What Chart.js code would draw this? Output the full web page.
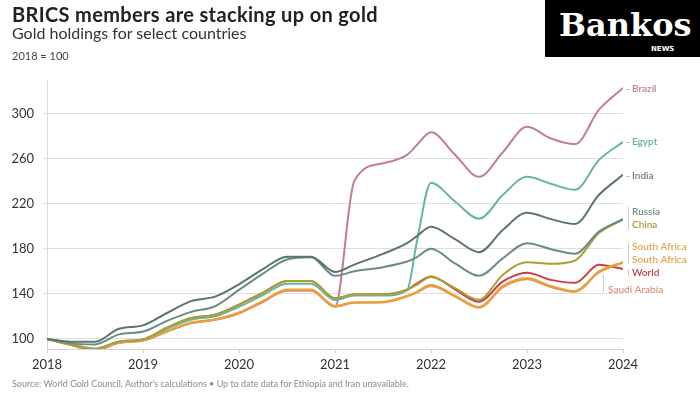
<!DOCTYPE html>
<html><head><meta charset="utf-8">
<script src="https://cdn.jsdelivr.net/npm/chart.js@4"></script>
<style>
html,body{margin:0;padding:0;background:#fff;}
#wrap{position:relative;width:700px;height:400px;overflow:hidden;font-family:Lato,"Open Sans",sans-serif;}
#c{position:absolute;left:0;top:0;}
.t{position:absolute;white-space:nowrap;}
#logo{position:absolute;left:545px;top:0;width:155px;height:57px;background:#000;}
</style></head><body>
<div id="wrap">
<canvas id="c" width="700" height="400"></canvas>
<div class="t" style="left:12px;top:4px;font-size:20px;line-height:20px;font-weight:700;color:#222;letter-spacing:0.35px;">BRICS members are stacking up on gold</div>
<div class="t" style="left:12px;top:25px;font-size:16px;line-height:16px;color:#333;">Gold holdings for select countries</div>
<div class="t" style="left:12px;top:50px;font-size:11px;line-height:11px;color:#444;">2018 = 100</div>
<div class="t" style="left:12px;top:379px;font-size:9px;line-height:9px;color:#8a8a8a;">Source: World Gold Council, Author's calculations • Up to date data for Ethiopia and Iran unavailable.</div>
<div id="logo">
  <div class="t" style="left:14px;top:7px;font-family:'DejaVu Serif',serif;font-weight:700;font-size:32px;line-height:36px;color:#fff;">Bankos</div>
  <div class="t" style="left:106px;top:45px;font-family:'DejaVu Sans',sans-serif;font-weight:700;font-size:7px;line-height:8px;color:#fff;">NEWS</div>
</div>
</div>
<script>
const xs = [2018, 2018.25, 2018.5, 2018.75, 2019, 2019.25, 2019.5, 2019.75, 2020, 2020.25, 2020.5, 2020.75, 2021, 2021.2, 2021.5, 2021.75, 2021.85, 2022, 2022.25, 2022.5, 2022.75, 2023, 2023.25, 2023.5, 2023.75, 2024];
const brazil = [100, 94.5, 89.8, 96.5, 98.5, 106.5, 114, 117, 122.8, 133, 143, 143, 128.5, 240, 256, 263.5, 272, 283.5, 263.6, 244, 266, 288.4, 278, 273, 303.6, 323];
const egypt = [100, 95.5, 91.5, 97.5, 99.5, 109, 117, 120, 128.5, 139, 149, 149, 134.5, 138.5, 138.5, 143, 185, 238.7, 222, 206.7, 228, 244, 237.8, 232.4, 259, 275];
const india = [100, 97.5, 97.5, 109, 112, 123, 133.5, 137.5, 148.5, 162, 173, 173, 159.5, 166, 175.5, 185, 191, 199.6, 188.6, 177, 197, 212, 206.4, 202, 228, 245.8];
const russia = [100, 96, 95, 104, 106.5, 116, 124, 129, 143.5, 158, 170.5, 172.6, 156, 160, 163.7, 168.7, 172.5, 180, 167, 156, 171.7, 185, 179.7, 175.6, 195.4, 206.5];
const china = [100, 95, 90.8, 97.5, 99.5, 110, 118.5, 121.5, 130.5, 141, 151.5, 151.5, 136, 139.5, 139.5, 143.6, 148, 155, 145, 134.7, 157, 168, 166.7, 169.6, 194, 206];
const southAfrica = [100, 94.8, 90, 96.8, 98.8, 107, 114.5, 117.5, 123.5, 133.8, 143.8, 143.8, 129.3, 132.6, 133, 138.3, 141.8, 148, 138.5, 128.3, 147, 154, 147, 142.5, 160, 168.2];
const world = [100, 95, 90.8, 97.5, 99.5, 110, 118.5, 121.5, 130.5, 141, 151.5, 151.5, 136, 139.5, 139.5, 143.6, 149, 155.5, 144, 133, 151, 158.7, 152.4, 149.8, 165.8, 162];
const saudiArabia = [100, 94.5, 89.6, 96.5, 98.5, 106.5, 114, 117, 122.8, 133, 143, 143, 128.7, 132, 132.3, 137.6, 141, 147, 137.6, 127.6, 146, 153, 146, 141.8, 159, 167.6];

const yTicks = [100, 140, 180, 220, 260, 300];
const xTicks = [2018, 2019, 2020, 2021, 2022, 2023, 2024];

const labelNames = ['Brazil','Egypt','India','Russia','China','South Africa','South Africa','World','Saudi Arabia'];
const labelValues = [322, 275, 245, 213, 201.5, 182, 170.5, 159, 143.5];
const labelColors = ['#c27c9c','#5db0a2','#6b7f74','#6f8c89','#a19a2e','#e3a24a','#e3a24a','#b9404c','#e2907e'];

// first entry is drawn on top
const series = [
  {label:'India', data:india, color:'#5a7667'},
  {label:'Russia', data:russia, color:'#6a8c86'},
  {label:'China', data:china, color:'#a9a232'},
  {label:'Egypt', data:egypt, color:'#62b6a6'},
  {label:'South Africa', data:southAfrica, color:'#eaa23e'},
  {label:'Saudi Arabia', data:saudiArabia, color:'#e8914a'},
  {label:'World', data:world, color:'#cc3f4a'},
  {label:'Brazil', data:brazil, color:'#c47b9b'}
];

const endLabels = {
  id:'endLabels',
  afterDatasetsDraw(chart){
    const {ctx, chartArea:a, scales:{y}} = chart;
    ctx.save();
    ctx.strokeStyle = '#c9c9c9';
    ctx.lineWidth = 1;
    const seg = (x1,y1,x2,y2)=>{ctx.beginPath();ctx.moveTo(x1,y1);ctx.lineTo(x2,y2);ctx.stroke();};
    [0,1,2].forEach(i=>{const py=Math.round(y.getPixelForValue(labelValues[i]))+0.5; seg(a.right+3,py,a.right+7,py);});
    const bx = a.right+5.5;
    seg(bx, y.getPixelForValue(217), bx, y.getPixelForValue(197));
    seg(bx, y.getPixelForValue(185), bx, y.getPixelForValue(167));
    seg(bx, y.getPixelForValue(162), bx, y.getPixelForValue(156));
    const sx = a.right-19.5;
    seg(sx, y.getPixelForValue(157), sx, y.getPixelForValue(142));
    ctx.font = '600 10px Lato, sans-serif';
    ctx.textBaseline = 'middle';
    labelNames.forEach((n,i)=>{
      const py = y.getPixelForValue(labelValues[i]);
      const px = n==='Saudi Arabia' ? a.right-15 : a.right+9;
      ctx.fillStyle = labelColors[i];
      ctx.fillText(n, px, py);
    });
    ctx.restore();
  }
};

new Chart(document.getElementById('c'), {
  type:'line',
  data:{
    datasets: series.map(s=>({
      label:s.label,
      data:xs.map((x,i)=>({x:x, y:s.data[i]})),
      borderColor:s.color,
      backgroundColor:s.color,
      borderWidth:2,
      pointRadius:0,
      cubicInterpolationMode:'monotone',
      fill:false
    }))
  },
  options:{
    responsive:false,
    animation:false,
    events:[],
    layout:{padding:{left:0, right:77, top:80, bottom:0}},
    plugins:{legend:{display:false}, tooltip:{enabled:false}, title:{display:false}},
    scales:{
      x:{
        type:'linear', min:2018, max:2024,
        afterBuildTicks:s=>{s.ticks = xTicks.map(v=>({value:v}));},
        afterFit:s=>{s.height = 51;},
        grid:{drawOnChartArea:false, drawTicks:true, tickLength:4, color:'#cfcfcf'},
        border:{display:true, color:'#d2d2d2', width:1},
        ticks:{callback:v=>String(v), color:'#333', font:{family:'Lato', size:13}, padding:4, maxRotation:0}
      },
      y:{
        type:'linear', min:91, max:330,
        afterBuildTicks:s=>{s.ticks = yTicks.map(v=>({value:v}));},
        afterFit:s=>{s.width = 47;},
        grid:{color:'#dedede', tickLength:4, drawTicks:true},
        border:{display:true, color:'#d8d8d8', width:1},
        ticks:{color:'#333', font:{family:'Lato', size:13}, padding:9}
      }
    }
  },
  plugins:[endLabels]
});
</script>
</body></html>
